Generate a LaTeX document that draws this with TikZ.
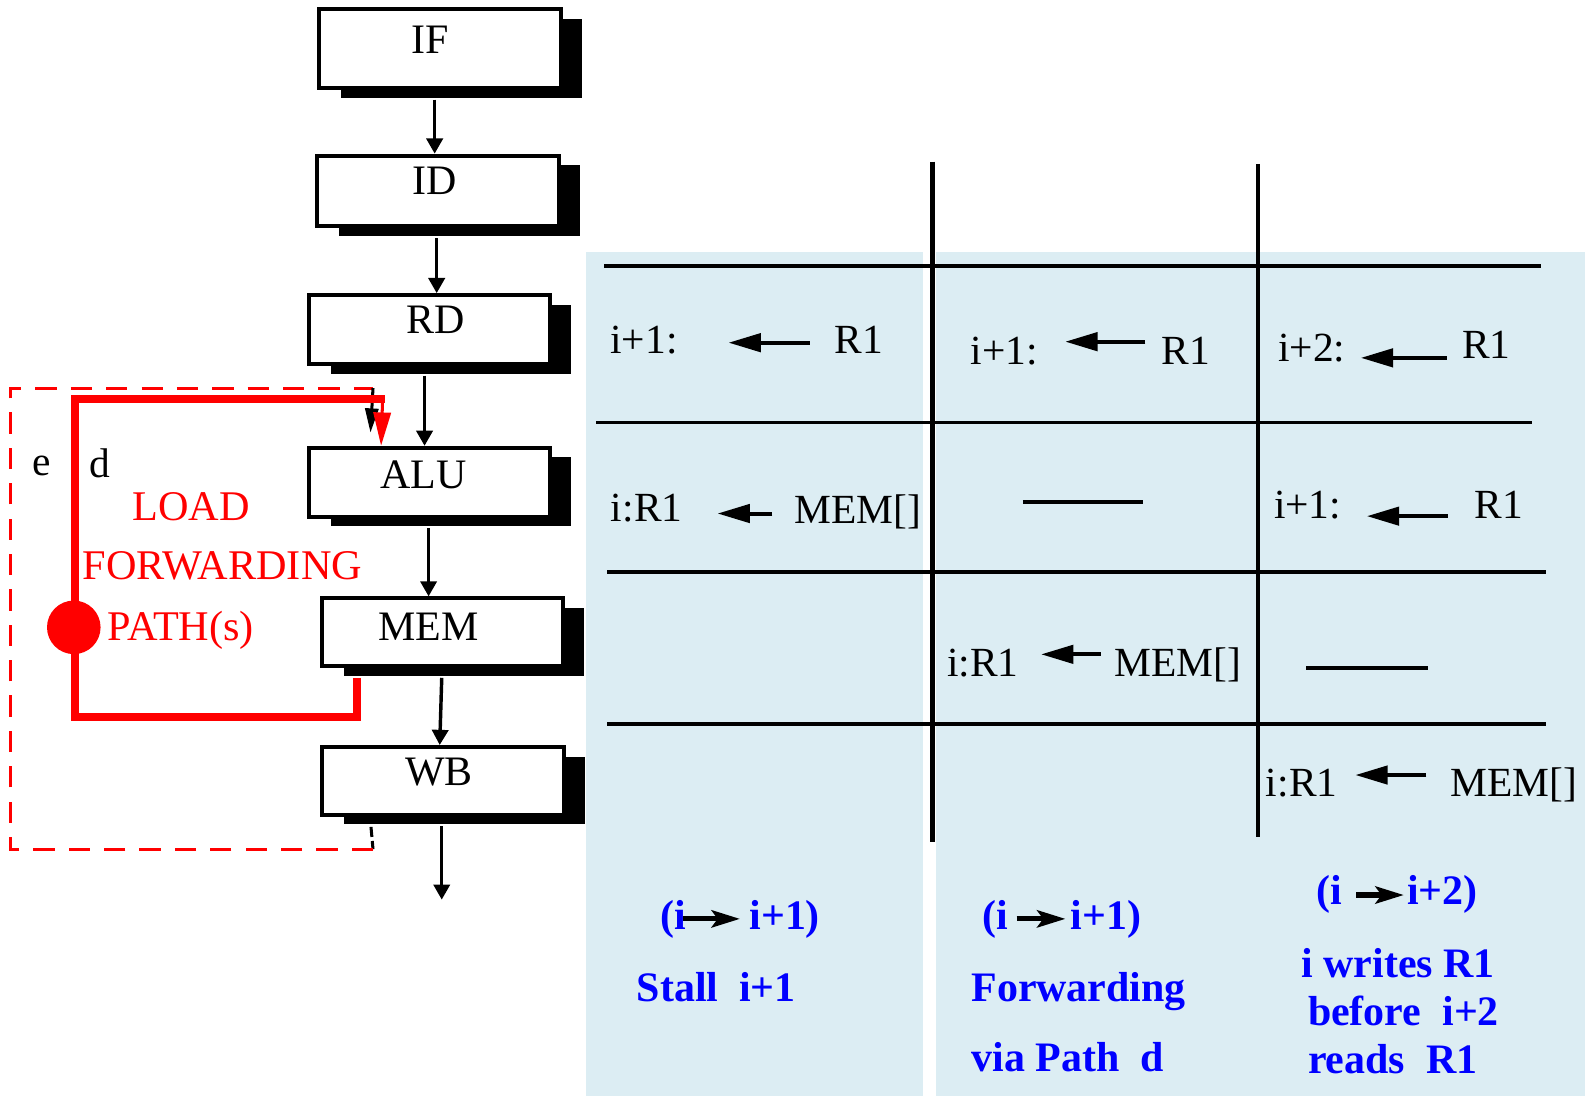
\documentclass[tikz,border=0pt]{standalone}
\usepackage{fontspec}
\setmainfont{Liberation Serif}
\usetikzlibrary{arrows.meta,calc,shadows}
\definecolor{panel}{RGB}{220,237,243}
\definecolor{pathred}{RGB}{255,0,0}
\definecolor{noteblue}{RGB}{0,0,255}

\tikzset{
  stagebox/.style={draw=black, line width=2pt, fill=white, inner sep=0pt,
    drop shadow={shadow xshift=10.5pt, shadow yshift=-4.75pt, opacity=1, fill=black}},
  lbl/.style={inner sep=0pt, anchor=base, font=\fontsize{20.75pt}{24pt}\selectfont},
  celltext/.style={inner sep=0pt, anchor=base west, font=\fontsize{20.5pt}{24pt}\selectfont},
  redtext/.style={celltext, text=pathred, font=\fontsize{20.9pt}{24pt}\selectfont},
  notetext/.style={inner sep=0pt, anchor=base west, text=noteblue,
    font=\fontsize{20.75pt}{24pt}\selectfont\bfseries},
  flowarrow/.style={line width=1.7pt, -{Triangle[length=7.5pt,width=8pt]}},
  cellarrow/.style={line width=2pt, -{Triangle[length=16pt,width=9pt]}},
  notearrow/.style={line width=2.5pt, -{Stealth[length=14pt,width=8.5pt,inset=3pt]}},
  tabline/.style={line width=1.8pt},
  dashbar/.style={line width=2pt},
  dpath/.style={draw=pathred, line width=4pt},
  dhead/.style={draw=pathred, fill=pathred, line width=1.5pt, -{Triangle[length=16.5pt,width=8.5pt]}},
  epath/.style={line width=1.5pt, dash pattern=on 10.5pt off 7pt},
  ehead/.style={line width=1.5pt, -{Triangle[length=12pt,width=6.5pt]}},
}

\begin{document}
\begin{tikzpicture}[x=0.5pt,y=-0.5pt]
\useasboundingbox (0,0) rectangle (1568,1084);
\fill[white] (0,0) rectangle (1568,1084);

% background panels of the table
\fill[panel] (580,249) rectangle (913,1084);
\fill[panel] (926,249) rectangle (1568,1084);

% table rules
\draw[tabline, line width=2.1pt] (922.6,160) -- (922.6,833);
\draw[tabline, line width=1.5pt] (1244.5,162) -- (1244.5,828);
\draw[tabline] (597.6,263) -- (1524,263);
\draw[tabline] (589.6,418) -- (1516,418);
\draw[tabline] (600.6,566) -- (1529.5,566);
\draw[tabline] (600.6,716) -- (1529.5,716);

% pipeline stages
\node[stagebox, minimum width=119.5pt, minimum height=39pt] (IF)  at (435.5,48)    {};
\node[stagebox, minimum width=119.5pt, minimum height=35pt] (ID)  at (433.5,189)   {};
\node[stagebox, minimum width=119pt, minimum height=34pt] (RD)  at (425,326)     {};
\node[stagebox, minimum width=119pt, minimum height=34pt] (ALU) at (425,477)     {};
\node[stagebox, minimum width=119pt, minimum height=33.5pt] (MEM) at (438,625.5)   {};
\node[stagebox, minimum width=119.5pt, minimum height=33.5pt] (WB)  at (438.5,772.5) {};

\node[lbl] (IFt)  at (425.5,52.7) {IF};
\node[lbl] (IDt)  at (430,192)    {ID};
\node[lbl] (RDt)  at (430.5,330)  {RD};
\node[lbl] (ALUt) at (419,483)    {ALU};
\node[lbl] (MEMt) at (423.7,634)  {MEM};
\node[lbl] (WBt)  at (434.4,776.6) {WB};

% stage-to-stage flow
\draw[flowarrow] ($(IF.south)+(-5.5,9.5)$)  -- ($(ID.north)+(-3.5,0)$);
\draw[flowarrow] ($(ID.south)+(-1.5,9.5)$)  -- ($(RD.north)+(7,0)$);
\draw[flowarrow] ($(RD.south)+(-5,9.5)$)    -- ($(ALU.north)+(-5,0)$);
\draw[flowarrow] ($(ALU.south)+(-1,9.5)$)   -- ($(MEM.north)+(-14,0)$);
\draw[flowarrow] ($(MEM.south)+(-1,9.5)$)   -- ($(WB.north)+(-3.5,0)$);
\coordinate (out) at (437,890);
\draw[flowarrow] ($(WB.south)+(-1.5,9.5)$)  -- (out);

% forwarding path e (WB -> ALU), dashed
\coordinate (eB) at (369,840);
\coordinate (eT) at (369,384);
\draw[epath, dash pattern=on 5pt off 2pt] ($(WB.south west)+(50,10)$) -- (eB);
\draw[epath, pathred] (eB) -- (10,840) -- (10,384) -- (eT);
\draw[ehead] (eT) -- ($(ALU.north west)+(62.5,-13)$);

% load forwarding path d (MEM -> ALU)
\draw[dpath] ($(MEM.south west)+(36,9.5)$) -- ++(0,39) -| (74.5,395) -- (381,395);
\draw[dhead] (378.5,395) -- ($(ALU.north west)+(73,0)$);
\node[circle, fill=pathred, minimum size=26.5pt, inner sep=0pt] (junction) at (73,620.6) {};

\node[celltext] (elbl) at (32,470)   {e};
\node[celltext] (dlbl) at (87.8,472) {d};
\node[redtext] (load)  at (130.6,515) {LOAD};
\node[redtext] (fwd)   at (81.4,573)  {FORWARDING};
\node[redtext] (paths) at (106,634)   {PATH(s)};

% table entries
\node[celltext] (a1)  at (603.5,350) {i+1:};
\node[celltext] (a1r) at (825,350)   {R1};
\draw[cellarrow] ($(a1r.base west)+(-24,-11)$) -- ($(a1.base east)+(50,-11)$);

\node[celltext] (b1)  at (960,361)  {i+1:};
\node[celltext] (b1r) at (1149,361) {R1};
\draw[cellarrow] ($(b1r.base west)+(-16,-23)$) -- ($(b1.base east)+(26.6,-23)$);

\node[celltext] (c1)  at (1264,358) {i+2:};
\node[celltext] (c1r) at (1446,355) {R1};
\draw[cellarrow] ($(c1r.base west)+(-15,-1)$) -- ($(c1.base east)+(15,-4)$);

\node[celltext] (a2)  at (604,516)   {i:R1};
\node[celltext] (a2r) at (785.5,518) {MEM[]};
\draw[cellarrow] ($(a2r.base west)+(-21.5,-10)$) -- ($(a2.base east)+(34.4,-8)$);

\draw[dashbar] (1012,497) -- (1131,497);

\node[celltext] (c2)  at (1260,512.6)   {i+1:};
\node[celltext] (c2r) at (1458.4,512.6) {R1};
\draw[cellarrow] ($(c2r.base west)+(-26,-2)$) -- ($(c2.base east)+(25,-2)$);

\node[celltext] (b3)  at (936.5,669) {i:R1};
\node[celltext] (b3r) at (1102,669)  {MEM[]};
\draw[cellarrow] ($(b3r.base west)+(-13.3,-21.7)$) -- ($(b3.base east)+(22,-21.7)$);

\draw[dashbar] (1292,661) -- (1413,661);

\node[celltext] (c4)  at (1252,787.5)   {i:R1};
\node[celltext] (c4r) at (1434.5,787.5) {MEM[]};
\draw[cellarrow] ($(c4r.base west)+(-23.5,-20.8)$) -- ($(c4.base east)+(17.4,-20.8)$);

% notes under the columns
\node[notetext] (n1a) at (653,920) {(i};
\node[notetext] (n1b) at (741,920) {i+1)};
\draw[notearrow] ($(n1a.base east)+(-3,-11)$) -- ($(n1b.base west)+(-9,-11)$);
\node[notetext] (n1c) at (629.5,991) {Stall\ \ i+1};

\node[notetext] (n2a) at (972,920)  {(i};
\node[notetext] (n2b) at (1059,920) {i+1)};
\draw[notearrow] ($(n2a.base east)+(7.6,-11)$) -- ($(n2b.base west)+(-5,-11)$);
\node[notetext] (n2c) at (960.6,991)  {Forwarding};
\node[notetext] (n2d) at (960.6,1060) {via Path\ \ d};

\node[notetext] (n3a) at (1302,895)   {(i};
\node[notetext] (n3b) at (1391.7,895) {i+2)};
\draw[notearrow] ($(n3a.base east)+(13.6,-9.6)$) -- ($(n3b.base west)+(-3,-9.6)$);
\node[notetext] (n3c) at (1287,967)     {i writes R1};
\node[notetext] (n3d) at (1293.6,1014)  {before\ \ i+2};
\node[notetext] (n3e) at (1293.6,1061.7) {reads\ \ R1};
\end{tikzpicture}
\end{document}
